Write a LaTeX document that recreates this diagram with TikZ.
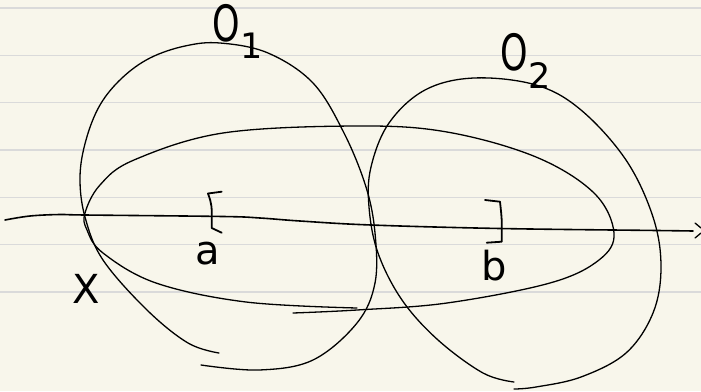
\documentclass[tikz,border=0pt]{standalone}
\usepackage{tikz}
\usepackage{fontspec}
\setsansfont{DejaVu Sans}
\definecolor{paper}{HTML}{F8F6EB}
\definecolor{ruling}{HTML}{DADADA}
\begin{document}
\begin{tikzpicture}[x=1pt, y=-1pt,
  ink/.style={line width=1.3pt, line cap=round, line join=round},
  rule/.style={ruling, line width=1.6pt},
  lbl/.style={font=\fontsize{40}{40}\selectfont\sffamily, inner sep=0pt},
  big/.style={font=\fontsize{50}{50}\selectfont\sffamily, inner sep=0pt}]
% paper and ruled lines
\fill[paper] (0,0) rectangle (701,391);
\useasboundingbox (0,0) rectangle (701,391);
\foreach \i in {0,...,6}
  \draw[rule] (0,8+47.33*\i) -- (701,8+47.33*\i);
% set O_1
\draw[ink] plot[smooth, tension=0.6] coordinates {(219,353) (188,343) (147,310) (103,260) (85,217) (80,177) (86,140) (100,105) (122,78) (150,58) (185,46) (220,43) (268,53) (313,83) (344,133) (366,187) (375,233) (375,283) (357,323) (313,360) (259,370) (201,365)};
% set O_2
\draw[ink] plot[smooth, tension=0.6] coordinates {(514,382) (483,373) (438,340) (402,300) (378,253) (369,207) (371,167) (389,123) (425,90) (474,78) (536,85) (581,110) (626,160) (653,217) (661,267) (653,313) (626,353) (581,377) (536,387) (514,389)};
% the set X
\draw[ink] plot[smooth, tension=0.6] coordinates {(357,308) (246,302) (156,283) (103,253) (87,230) (85,213) (100,185) (134,160) (223,133) (357,126) (447,132) (536,157) (594,193) (614,233) (599,260) (550,283) (447,303) (357,310) (293,313)};
% real line
\draw[ink, line width=1.6pt] plot[smooth, tension=0.6] coordinates {(5,220) (30,216) (60,214.5) (85,215) (223,216.5) (260,218) (300,221) (371,225) (500,228.5) (657,230.5) (693,231)};
\draw[ink] (695,223) -- (701,228);
\draw[ink] (701,233) -- (695,238);
% interval brackets
\draw[ink, line width=1.8pt] (221.7,191.7) -- (208,193.5) .. controls (212,205) .. (211.7,228) -- (221.7,232.7);
\draw[ink, line width=1.8pt] (485,200) -- (500,201.7) .. controls (502,220) .. (501.7,241.7) -- (486.7,242.7);
% labels
\node[big] (o1) at (238,31) {\scalebox{0.7}[1]{O}\textsubscript{1}};
\node[big] (o2) at (526,61) {\scalebox{0.7}[1]{O}\textsubscript{2}};
\node[lbl] (a) at (208,254) {a};
\node[lbl] (b) at (494,266) {b};
\node[lbl] (x) at (86,289) {X};
\end{tikzpicture}
\end{document}
